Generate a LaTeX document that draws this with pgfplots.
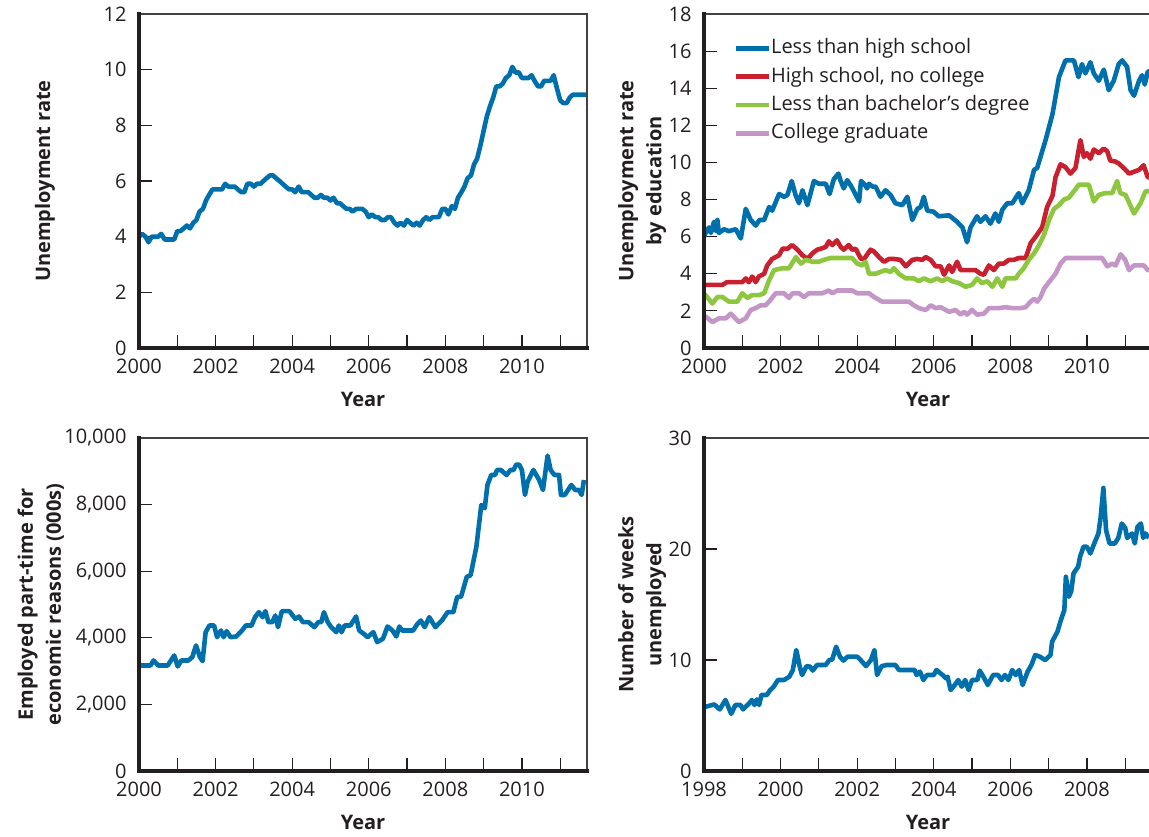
\documentclass[border=0pt]{standalone}
\usepackage{fontspec}
\setmainfont{Open Sans}
\usepackage{pgfplots}
\pgfplotsset{compat=1.18}

\definecolor{txt}{HTML}{231F20}
\definecolor{cblue}{HTML}{0070AD}
\definecolor{cred}{HTML}{C8202E}
\definecolor{cgreen}{HTML}{8DC63F}
\definecolor{clav}{HTML}{C496C8}

\pgfplotsset{
  panel/.style={
    scale only axis, width=224pt,
    axis line style={line width=0.6pt, draw=txt!85},
    tick pos=left, tick align=inside,
    major tick length=6.5pt, minor tick length=6.5pt,
    every tick/.style={line width=0.6pt, draw=txt},
    /pgf/number format/assume math mode=true,
    tick label style={font=\fontsize{10}{12}\selectfont, text=txt},
    xticklabel style={/pgf/number format/1000 sep={}, yshift=-2pt},
    yticklabel style={xshift=-2.7pt},
    scaled y ticks=false,
    label style={font=\bfseries\fontsize{10}{14}\selectfont, text=txt, align=center},
    x label style={at={(axis description cs:0.5,-0.155)}, anchor=center},
    no marks,
    every axis plot/.append style={line width=2.3pt, line join=round},
    after end axis/.code={
      \draw[line width=2pt, txt, line cap=rect] (rel axis cs:0,1) -- (rel axis cs:0,0) -- (rel axis cs:1,0);
    },
  },
}

\begin{document}
\begin{tikzpicture}

% top left: unemployment rate
\begin{axis}[panel, at={(69.5pt,-174pt)}, anchor=south west, height=167pt,
  xmin=2000, xmax=2011.7, ymin=0, ymax=12,
  xtick={2000,2002,...,2010}, minor xtick={2001,2003,...,2011},
  ytick={0,2,...,12},
  xlabel={Year}, ylabel={Unemployment rate},
  y label style={at={(axis description cs:-0.21,0.5)}, anchor=center}]
\addplot[cblue] coordinates {
(2000.00,4.0)(2000.08,4.1)(2000.17,4.0)(2000.25,3.8)(2000.33,4.0)(2000.42,4.0)(2000.50,4.0)(2000.58,4.1)(2000.67,3.9)(2000.75,3.9)(2000.83,3.9)(2000.92,3.9)
(2001.00,4.2)(2001.08,4.2)(2001.17,4.3)(2001.25,4.4)(2001.33,4.3)(2001.42,4.5)(2001.50,4.6)(2001.58,4.9)(2001.67,5.0)(2001.75,5.3)(2001.83,5.5)(2001.92,5.7)
(2002.00,5.7)(2002.08,5.7)(2002.17,5.7)(2002.25,5.9)(2002.33,5.8)(2002.42,5.8)(2002.50,5.8)(2002.58,5.7)(2002.67,5.6)(2002.75,5.6)(2002.83,5.9)(2002.92,5.9)
(2003.00,5.8)(2003.08,5.9)(2003.17,5.9)(2003.25,6.0)(2003.33,6.1)(2003.42,6.2)(2003.50,6.2)(2003.58,6.1)(2003.67,6.0)(2003.75,5.9)(2003.83,5.8)(2003.92,5.7)
(2004.00,5.7)(2004.08,5.6)(2004.17,5.8)(2004.25,5.6)(2004.33,5.6)(2004.42,5.6)(2004.50,5.5)(2004.58,5.4)(2004.67,5.4)(2004.75,5.5)(2004.83,5.4)(2004.92,5.4)
(2005.00,5.3)(2005.08,5.4)(2005.17,5.2)(2005.25,5.2)(2005.33,5.1)(2005.42,5.0)(2005.50,5.0)(2005.58,4.9)(2005.67,5.0)(2005.75,5.0)(2005.83,5.0)(2005.92,4.9)
(2006.00,4.7)(2006.08,4.8)(2006.17,4.7)(2006.25,4.7)(2006.33,4.6)(2006.42,4.6)(2006.50,4.7)(2006.58,4.7)(2006.67,4.5)(2006.75,4.4)(2006.83,4.5)(2006.92,4.4)
(2007.00,4.6)(2007.08,4.5)(2007.17,4.4)(2007.25,4.5)(2007.33,4.4)(2007.42,4.6)(2007.50,4.7)(2007.58,4.6)(2007.67,4.7)(2007.75,4.7)(2007.83,4.7)(2007.92,5.0)
(2008.00,5.0)(2008.08,4.8)(2008.17,5.1)(2008.25,5.0)(2008.33,5.4)(2008.42,5.6)(2008.50,5.8)(2008.58,6.1)(2008.67,6.2)(2008.75,6.6)(2008.83,6.8)(2008.92,7.3)
(2009.00,7.8)(2009.08,8.3)(2009.17,8.7)(2009.25,9.0)(2009.33,9.4)(2009.42,9.4)(2009.50,9.5)(2009.58,9.7)(2009.67,9.8)(2009.75,10.1)(2009.83,9.9)(2009.92,9.9)
(2010.00,9.7)(2010.08,9.7)(2010.17,9.7)(2010.25,9.8)(2010.33,9.6)(2010.42,9.4)(2010.50,9.4)(2010.58,9.6)(2010.67,9.6)(2010.75,9.6)(2010.83,9.8)(2010.92,9.3)
(2011.00,8.9)(2011.08,8.8)(2011.17,8.8)(2011.25,9.0)(2011.33,9.1)(2011.42,9.1)(2011.50,9.1)(2011.58,9.1)(2011.67,9.1)
};
\end{axis}

% top right: by education
\begin{axis}[panel, at={(352pt,-174pt)}, anchor=south west, height=167pt,
  xmin=2000, xmax=2011.7, ymin=0, ymax=18,
  xtick={2000,2002,...,2010}, minor xtick={2001,2003,...,2011},
  ytick={0,2,...,18},
  xlabel={Year}, ylabel={Unemployment rate\\by education},
  y label style={at={(axis description cs:-0.138,0.5)}, anchor=center},
  legend image code/.code={\draw[#1, line cap=butt] (0pt,0pt) -- (16.5pt,0pt);},
  legend cell align=left,
  legend style={at={(axis description cs:0.065,0.93)}, anchor=north west,
    draw=none, fill=none, inner sep=0pt, row sep=3.7pt,
    font=\fontsize{10}{12}\selectfont, text=txt,
    nodes={inner sep=0pt, text height=8pt, text depth=2.5pt},
    /tikz/every even column/.append style={column sep=3.5pt}}]
\addplot[cblue] coordinates {
(2000.00,6.0)(2000.04,6.2)(2000.13,6.5)(2000.18,6.2)(2000.26,6.8)(2000.31,6.3)(2000.35,6.9)(2000.39,6.2)(2000.52,6.4)(2000.65,6.3)(2000.83,6.4)(2000.96,5.9)
(2001.09,7.5)(2001.22,6.9)(2001.35,6.6)(2001.45,6.9)(2001.57,6.9)(2001.70,7.6)(2001.78,7.4)(2001.96,8.3)(2002.09,8.15)(2002.18,8.25)(2002.29,9.0)(2002.39,8.25)
(2002.48,7.8)(2002.57,8.5)(2002.70,7.7)(2002.87,9.0)(2003.00,8.85)(2003.18,8.85)(2003.28,8.3)(2003.39,9.1)(2003.51,9.4)(2003.57,9.0)(2003.65,8.6)(2003.74,9.05)
(2003.85,8.7)(2004.05,7.9)(2004.10,9.0)(2004.20,8.8)(2004.26,8.6)(2004.31,8.85)(2004.40,8.7)(2004.48,8.7)(2004.61,8.15)(2004.74,8.5)(2004.87,8.25)(2005.00,7.8)
(2005.18,7.7)(2005.31,8.15)(2005.44,6.9)(2005.57,7.5)(2005.66,7.6)(2005.74,8.15)(2005.83,7.4)(2005.99,7.35)(2006.13,7.1)(2006.40,7.15)(2006.61,6.8)(2006.75,6.5)
(2006.87,5.7)(2006.96,6.5)(2007.13,7.1)(2007.22,6.8)(2007.35,7.1)(2007.48,6.7)(2007.61,7.25)(2007.70,6.8)(2007.79,7.45)(2007.92,7.8)(2008.05,7.8)(2008.22,8.35)
(2008.31,7.8)(2008.48,8.5)(2008.62,9.6)(2008.70,9.7)(2008.92,11.2)(2009.10,12.6)(2009.27,14.6)(2009.44,15.5)(2009.66,15.5)(2009.78,14.6)(2009.87,15.3)(2009.96,14.8)
(2010.09,15.4)(2010.18,14.8)(2010.31,14.4)(2010.44,15.0)(2010.57,13.9)(2010.70,14.4)(2010.83,15.3)(2010.92,15.5)(2011.05,15.15)(2011.14,13.9)(2011.23,13.6)(2011.36,14.4)
(2011.44,14.7)(2011.51,14.2)(2011.59,14.9)(2011.70,14.9)
};
\addplot[cred] coordinates {
(2000.00,3.4)(2000.48,3.4)(2000.60,3.55)(2001.00,3.55)(2001.09,3.75)(2001.17,3.55)(2001.26,3.85)(2001.35,3.55)(2001.43,3.85)(2001.57,4.0)(2001.65,4.45)(2001.78,4.8)
(2001.96,5.0)(2002.05,5.35)(2002.18,5.35)(2002.30,5.55)(2002.44,5.3)(2002.57,5.0)(2002.70,4.8)(2002.83,5.1)(2002.96,5.3)(2003.05,5.35)(2003.18,5.45)(2003.26,5.75)
(2003.35,5.55)(2003.47,5.8)(2003.57,5.45)(2003.65,5.3)(2003.78,5.55)(2003.87,5.3)(2003.96,5.35)(2004.10,4.8)(2004.18,4.8)(2004.35,5.3)(2004.44,5.2)(2004.57,4.9)
(2004.70,4.65)(2004.83,4.8)(2004.96,4.8)(2005.13,4.75)(2005.27,4.4)(2005.44,4.75)(2005.57,4.8)(2005.70,4.75)(2005.79,4.9)(2005.92,4.75)(2006.05,4.4)(2006.18,4.4)
(2006.27,3.95)(2006.40,4.45)(2006.48,4.1)(2006.61,4.65)(2006.70,4.2)(2006.83,4.2)(2007.09,4.2)(2007.22,4.0)(2007.31,3.95)(2007.44,4.45)(2007.57,4.2)(2007.70,4.55)
(2007.83,4.55)(2007.96,4.75)(2008.09,4.75)(2008.22,4.85)(2008.40,4.85)(2008.53,5.65)(2008.66,6.0)(2008.83,6.5)(2008.96,7.6)(2009.10,8.2)(2009.18,9.2)(2009.31,9.9)
(2009.44,9.75)(2009.57,9.4)(2009.70,9.7)(2009.83,11.2)(2009.92,10.3)(2010.00,10.5)(2010.09,10.2)(2010.18,10.7)(2010.31,10.5)(2010.44,10.75)(2010.53,10.6)(2010.61,10.1)
(2010.74,10.05)(2010.83,9.95)(2010.96,9.7)(2011.10,9.4)(2011.23,9.5)(2011.36,9.6)(2011.48,9.85)(2011.59,9.2)(2011.70,9.2)
};
\addplot[cgreen] coordinates {
(2000.00,2.9)(2000.04,2.85)(2000.22,2.4)(2000.35,2.75)(2000.48,2.75)(2000.65,2.5)(2000.87,2.5)(2001.00,2.95)(2001.13,2.7)(2001.26,2.85)(2001.43,2.85)(2001.57,2.95)
(2001.70,3.65)(2001.83,4.2)(2002.05,4.3)(2002.22,4.3)(2002.40,4.9)(2002.53,4.55)(2002.66,4.75)(2002.83,4.65)(2003.00,4.65)(2003.13,4.75)(2003.30,4.85)(2003.87,4.85)
(2004.00,4.55)(2004.13,4.45)(2004.22,4.65)(2004.31,4.0)(2004.48,4.0)(2004.61,4.1)(2004.74,4.2)(2004.87,4.1)(2004.96,4.3)(2005.09,4.0)(2005.27,3.75)(2005.48,3.75)
(2005.61,3.6)(2005.74,3.75)(2005.92,3.6)(2006.09,3.75)(2006.22,3.6)(2006.35,3.75)(2006.48,3.6)(2006.66,3.5)(2006.83,3.3)(2007.00,3.4)(2007.13,3.75)(2007.26,3.5)
(2007.40,3.6)(2007.53,3.3)(2007.66,3.75)(2007.79,3.3)(2007.87,3.75)(2008.14,3.75)(2008.22,4.0)(2008.35,4.3)(2008.48,4.75)(2008.62,5.1)(2008.75,5.55)(2008.88,6.1)
(2009.01,6.9)(2009.14,7.5)(2009.27,7.7)(2009.40,8.0)(2009.53,8.1)(2009.66,8.45)(2009.79,8.8)(2010.05,8.8)(2010.18,7.9)(2010.31,8.25)(2010.48,8.35)(2010.66,8.35)
(2010.79,9.0)(2010.87,8.35)(2011.01,8.25)(2011.23,7.25)(2011.40,7.8)(2011.53,8.45)(2011.70,8.45)
};
\addplot[clav] coordinates {
(2000.00,1.7)(2000.04,1.7)(2000.22,1.4)(2000.39,1.6)(2000.57,1.6)(2000.70,1.85)(2000.91,1.4)(2001.09,1.6)(2001.22,2.05)(2001.35,2.15)(2001.48,2.3)(2001.61,2.3)
(2001.74,2.6)(2001.87,2.95)(2002.09,2.95)(2002.22,2.7)(2002.31,2.95)(2002.48,2.95)(2002.61,2.75)(2002.74,2.95)(2003.09,2.95)(2003.26,3.1)(2003.35,2.95)(2003.48,3.1)
(2003.87,3.1)(2004.00,2.95)(2004.31,2.95)(2004.44,2.75)(2004.65,2.5)(2005.35,2.5)(2005.48,2.3)(2005.61,2.15)(2005.79,2.05)(2005.92,2.3)(2006.05,2.15)(2006.18,2.2)
(2006.40,1.95)(2006.57,2.05)(2006.70,1.8)(2006.79,1.95)(2006.87,1.8)(2007.00,2.05)(2007.13,1.8)(2007.31,1.85)(2007.44,2.15)(2007.70,2.15)(2007.87,2.2)(2008.05,2.15)
(2008.27,2.15)(2008.40,2.2)(2008.53,2.5)(2008.62,2.65)(2008.70,2.5)(2008.79,2.75)(2008.88,3.2)(2009.01,3.55)(2009.18,4.0)(2009.31,4.55)(2009.44,4.85)(2010.40,4.85)
(2010.53,4.4)(2010.66,4.55)(2010.75,4.45)(2010.88,5.05)(2011.00,4.75)(2011.10,4.2)(2011.23,4.45)(2011.49,4.45)(2011.59,4.2)(2011.70,4.2)
};
\legend{Less than high school, {High school, no college}, Less than bachelor’s degree, College graduate}
\end{axis}

% bottom left: part-time for economic reasons
\begin{axis}[panel, at={(69.5pt,-385.5pt)}, anchor=south west, height=166.5pt,
  xmin=2000, xmax=2011.7, ymin=0, ymax=10000,
  xtick={2000,2002,...,2010}, minor xtick={2001,2003,...,2011},
  ytick={0,2000,...,10000},
  xlabel={Year}, ylabel={Employed part-time for\\economic reasons (000s)},
  y label style={at={(axis description cs:-0.219,0.5)}, anchor=center}]
\addplot[cblue] coordinates {
(2000.00,3170)(2000.05,3170)(2000.30,3170)(2000.38,3320)(2000.50,3170)(2000.75,3170)(2000.92,3470)(2001.01,3140)(2001.11,3320)(2001.29,3320)(2001.39,3420)(2001.49,3770)
(2001.59,3420)(2001.66,3300)(2001.74,4170)(2001.84,4370)(2001.96,4370)(2002.04,4020)(2002.14,4220)(2002.21,4020)(2002.29,4200)(2002.39,4020)(2002.54,4040)(2002.69,4220)
(2002.79,4370)(2002.94,4370)(2003.03,4620)(2003.13,4770)(2003.23,4620)(2003.30,4800)(2003.38,4470)(2003.48,4470)(2003.56,4670)(2003.63,4320)(2003.73,4800)(2003.93,4800)
(2004.08,4570)(2004.18,4640)(2004.28,4470)(2004.43,4470)(2004.58,4320)(2004.68,4470)(2004.76,4470)(2004.83,4770)(2004.93,4470)(2005.02,4320)(2005.15,4170)(2005.22,4370)
(2005.29,4170)(2005.37,4370)(2005.52,4370)(2005.67,4640)(2005.75,4220)(2005.87,4120)(2005.97,4020)(2006.12,4170)(2006.22,3870)(2006.37,3970)(2006.49,4340)(2006.62,4220)
(2006.72,4040)(2006.80,4340)(2006.87,4220)(2006.97,4220)(2007.16,4220)(2007.26,4400)(2007.36,4520)(2007.46,4320)(2007.58,4620)(2007.74,4320)(2007.91,4520)(2008.06,4770)
(2008.21,4770)(2008.31,5230)(2008.41,5230)(2008.56,5830)(2008.66,5880)(2008.81,6730)(2008.94,7990)(2009.03,7890)(2009.10,8590)(2009.20,8890)(2009.30,8890)(2009.35,9040)
(2009.45,9040)(2009.60,8890)(2009.70,9040)(2009.78,9040)(2009.85,9200)(2009.93,9200)(2010.00,9040)(2010.08,8290)(2010.15,8690)(2010.30,9040)(2010.45,8740)(2010.55,8440)
(2010.67,9470)(2010.75,9040)(2010.85,8890)(2010.97,8890)(2011.02,8290)(2011.12,8290)(2011.29,8590)(2011.39,8440)(2011.49,8440)(2011.56,8290)(2011.62,8740)
};
\end{axis}

% bottom right: weeks unemployed
\begin{axis}[panel, at={(352pt,-385.5pt)}, anchor=south west, height=166.5pt,
  xmin=1998, xmax=2009.7, ymin=0, ymax=30,
  xtick={1998,2000,...,2008}, minor xtick={1999,2001,...,2009},
  ytick={0,10,20,30},
  xlabel={Year}, ylabel={Number of weeks\\unemployed},
  y label style={at={(axis description cs:-0.138,0.5)}, anchor=center}]
\addplot[cblue] coordinates {
(1998.00,5.8)(1998.05,5.8)(1998.27,6.0)(1998.41,5.55)(1998.56,6.4)(1998.71,5.15)(1998.82,5.95)(1998.95,5.95)(1999.02,5.55)(1999.18,6.1)(1999.25,6.4)(1999.32,5.95)
(1999.38,6.45)(1999.44,5.95)(1999.50,6.85)(1999.64,6.85)(1999.73,7.3)(1999.82,7.6)(1999.93,8.2)(2000.09,8.2)(2000.23,8.5)(2000.32,9.1)(2000.41,10.9)(2000.50,9.4)
(2000.56,8.65)(2000.68,9.45)(2000.77,9.4)(2000.84,9.05)(2000.95,9.55)(2001.18,9.55)(2001.27,10.0)(2001.35,10.05)(2001.45,11.2)(2001.55,10.3)(2001.64,9.95)(2001.75,10.3)
(2002.00,10.3)(2002.09,10.0)(2002.23,9.45)(2002.36,10.0)(2002.45,10.9)(2002.52,8.65)(2002.64,9.45)(2002.77,9.55)(2003.00,9.55)(2003.09,9.1)(2003.50,9.1)(2003.55,8.65)
(2003.64,8.95)(2003.73,8.2)(2003.82,8.65)(2004.00,8.65)(2004.07,9.1)(2004.23,8.65)(2004.32,8.35)(2004.36,8.5)(2004.44,7.3)(2004.55,7.75)(2004.64,8.2)(2004.73,7.6)
(2004.82,8.2)(2004.91,7.3)(2005.00,8.2)(2005.14,8.2)(2005.20,9.05)(2005.32,8.35)(2005.41,7.75)(2005.55,8.65)(2005.68,8.65)(2005.77,8.2)(2005.86,8.65)(2005.95,8.2)
(2006.05,9.1)(2006.14,8.65)(2006.23,9.1)(2006.32,7.75)(2006.45,8.95)(2006.55,9.55)(2006.65,10.45)(2006.77,10.3)(2006.91,10.0)(2007.05,10.45)(2007.09,11.65)(2007.23,12.55)
(2007.32,13.6)(2007.41,14.5)(2007.45,17.5)(2007.53,15.7)(2007.59,16.2)(2007.65,17.8)(2007.77,18.4)(2007.82,19.3)(2007.91,20.2)(2008.00,20.2)(2008.09,19.6)(2008.18,20.4)
(2008.30,21.4)(2008.36,22.9)(2008.43,25.5)(2008.50,21.7)(2008.59,20.5)(2008.73,20.5)(2008.82,21.0)(2008.91,22.3)(2009.00,21.9)(2009.05,21.0)(2009.18,21.4)(2009.25,20.5)
(2009.32,22.0)(2009.41,22.3)(2009.47,21.0)(2009.53,21.4)(2009.62,21.0)
};
\end{axis}

\pgfresetboundingbox
\useasboundingbox (0pt,0pt) rectangle (574.5pt,-418pt);
\end{tikzpicture}
\end{document}
